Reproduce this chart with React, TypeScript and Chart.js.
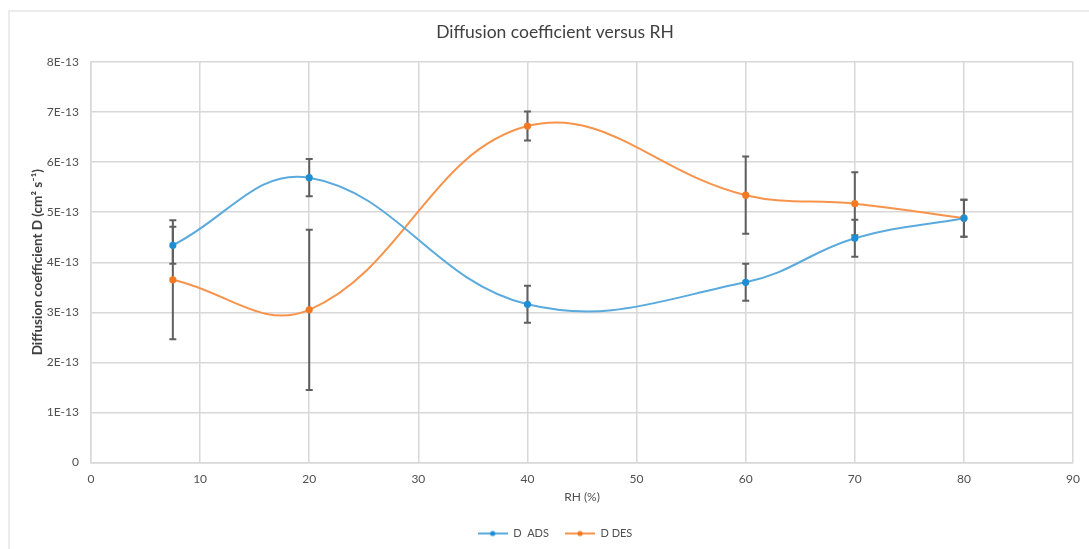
import React, { useEffect, useRef } from 'react';
import { Chart, registerables } from 'chart.js';

Chart.register(...registerables);

// ---- data ----
const RH = [7.5, 20, 40, 60, 70, 80];
const D_ADS = [4.34e-13, 5.69e-13, 3.16e-13, 3.6e-13, 4.48e-13, 4.88e-13];
const D_ADS_ERR = [0.37e-13, 0.37e-13, 0.37e-13, 0.37e-13, 0.37e-13, 0.37e-13];
const D_DES = [3.65e-13, 3.05e-13, 6.72e-13, 5.34e-13, 5.17e-13, 4.88e-13];
const D_DES_ERR = [1.19e-13, 1.6e-13, 0.29e-13, 0.77e-13, 0.63e-13, 0.37e-13];
const SERIES_NAMES = ['D  ADS', 'D DES'];
const TITLE = 'Diffusion coefficient versus RH';
const X_TITLE = 'RH (%)';
const Y_TITLE = 'Diffusion coefficient D (cm\u00B2 s\u207B\u00B9)';

const ADS_LINE = '#5aaadd';
const ADS_POINT = '#1e8fd5';
const DES_LINE = '#f7934a';
const DES_POINT = '#f47a22';
const GRID = '#d8d8d8';
const TEXT = '#505050';
const FONT = 'Lato, "Open Sans", "DejaVu Sans", sans-serif';

function legendIcon(line: string, point: string): HTMLCanvasElement {
  const c = document.createElement('canvas');
  c.width = 30;
  c.height = 8;
  const ctx = c.getContext('2d')!;
  ctx.strokeStyle = line;
  ctx.lineWidth = 2;
  ctx.beginPath();
  ctx.moveTo(0, 4);
  ctx.lineTo(30, 4);
  ctx.stroke();
  ctx.fillStyle = point;
  ctx.beginPath();
  ctx.arc(15, 4, 2.6, 0, Math.PI * 2);
  ctx.fill();
  return c;
}

const errorBarPlugin = {
  id: 'errorBars',
  beforeDatasetsDraw(chart: any) {
    const { ctx } = chart;
    const xs = chart.scales.x;
    const ys = chart.scales.y;
    ctx.save();
    ctx.strokeStyle = '#5f5f5f';
    ctx.lineWidth = 2;
    chart.data.datasets.forEach((ds: any) => {
      const errs: number[] = ds.errors || [];
      ds.data.forEach((pt: any, j: number) => {
        const e = errs[j];
        if (!e) return;
        const x = xs.getPixelForValue(pt.x);
        const y1 = ys.getPixelForValue(pt.y + e);
        const y2 = ys.getPixelForValue(pt.y - e);
        ctx.beginPath();
        ctx.moveTo(x, y1);
        ctx.lineTo(x, y2);
        ctx.moveTo(x - 3.5, y1);
        ctx.lineTo(x + 3.5, y1);
        ctx.moveTo(x - 3.5, y2);
        ctx.lineTo(x + 3.5, y2);
        ctx.stroke();
      });
    });
    ctx.restore();
  },
};

const framePlugin = {
  id: 'frame',
  beforeDraw(chart: any) {
    const { ctx, width, height } = chart;
    ctx.save();
    ctx.fillStyle = '#ffffff';
    ctx.fillRect(0, 0, width, height);
    ctx.strokeStyle = '#e6e6e6';
    ctx.lineWidth = 1.5;
    ctx.beginPath();
    ctx.moveTo(9, height);
    ctx.lineTo(9, 11);
    ctx.lineTo(width, 11);
    ctx.stroke();
    ctx.restore();
  },
};

export default function App() {
  const ref = useRef<HTMLCanvasElement | null>(null);

  useEffect(() => {
    if (!ref.current) return;
    const icons = [legendIcon(ADS_LINE, ADS_POINT), legendIcon(DES_LINE, DES_POINT)];
    const chart = new Chart(ref.current, {
      type: 'line',
      data: {
        datasets: [
          {
            label: SERIES_NAMES[0],
            data: RH.map((x, i) => ({ x, y: D_ADS[i] })),
            errors: D_ADS_ERR,
            borderColor: ADS_LINE,
            backgroundColor: ADS_POINT,
            pointBackgroundColor: ADS_POINT,
            pointBorderColor: ADS_POINT,
            pointRadius: 2.6,
            borderWidth: 2,
            tension: 0.4,
            fill: false,
          } as any,
          {
            label: SERIES_NAMES[1],
            data: RH.map((x, i) => ({ x, y: D_DES[i] })),
            errors: D_DES_ERR,
            borderColor: DES_LINE,
            backgroundColor: DES_POINT,
            pointBackgroundColor: DES_POINT,
            pointBorderColor: DES_POINT,
            pointRadius: 2.6,
            borderWidth: 2,
            tension: 0.4,
            fill: false,
          } as any,
        ],
      },
      options: {
        responsive: false,
        animation: false,
        layout: { padding: { left: 34, right: 13, top: 0, bottom: 0 } },
        font: { family: FONT },
        plugins: {
          title: {
            display: true,
            text: TITLE,
            color: '#404040',
            font: { family: FONT, size: 17.5, weight: 'normal' },
            padding: { top: 21.5, bottom: 19.5 },
          },
          legend: {
            position: 'bottom',
            labels: {
              usePointStyle: true,
              pointStyleWidth: 30,
              padding: 16,
              color: TEXT,
              font: { family: FONT, size: 11 },
              generateLabels: (ch: any) => {
                const items = Chart.defaults.plugins.legend.labels.generateLabels(ch);
                return items.map((it: any, i: number) => ({ ...it, pointStyle: icons[i] }));
              },
            },
          },
          tooltip: { enabled: false },
        },
        scales: {
          x: {
            type: 'linear',
            min: 0,
            max: 90,
            ticks: { stepSize: 10, color: TEXT, padding: 9, font: { family: FONT, size: 12 } },
            grid: { color: GRID, lineWidth: 1.5, drawTicks: false },
            border: { color: GRID, width: 1.5 },
            title: {
              display: true,
              text: X_TITLE,
              color: TEXT,
              font: { family: FONT, size: 12 },
              padding: { top: 0, bottom: 7.8 },
            },
            afterFit: (s: any) => {
              s.height = 49.5;
            },
          },
          y: {
            type: 'linear',
            min: 0,
            max: 8e-13,
            ticks: {
              stepSize: 1e-13,
              color: TEXT,
              padding: 12,
              font: { family: FONT, size: 12 },
              callback: (v: any) => {
                const n = Math.round(Number(v) / 1e-13);
                return n === 0 ? '0' : `${n}E-13`;
              },
            },
            grid: { color: GRID, lineWidth: 1.5, drawTicks: false },
            border: { color: GRID, width: 1.5 },
            title: {
              display: true,
              text: Y_TITLE,
              color: '#404040',
              font: { family: FONT, size: 13.5, weight: 'bold' },
              padding: { top: -4.1, bottom: 0 },
            },
            afterFit: (s: any) => {
              s.width = 57;
            },
          },
        },
      } as any,
      plugins: [framePlugin, errorBarPlugin],
    });
    return () => chart.destroy();
  }, []);

  return (
    <div style={{ position: 'fixed', left: 0, top: 0, width: 1089, height: 549, background: '#fff' }}>
      <canvas ref={ref} width={1089} height={549} style={{ width: 1089, height: 549, display: 'block' }} />
    </div>
  );
}
